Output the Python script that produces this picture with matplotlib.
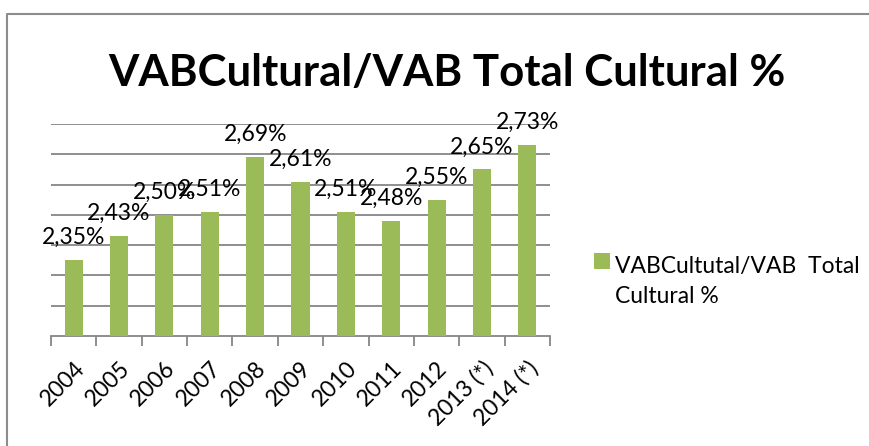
import matplotlib
matplotlib.use("Agg")
import matplotlib.pyplot as plt
from matplotlib.lines import Line2D
from matplotlib.patches import Rectangle
import numpy as np

categories = ["2004", "2005", "2006", "2007", "2008", "2009", "2010", "2011", "2012", "2013 (*)", "2014 (*)"]
values = [2.35, 2.43, 2.50, 2.51, 2.69, 2.61, 2.51, 2.48, 2.55, 2.65, 2.73]
labels = ["2,35%", "2,43%", "2,50%", "2,51%", "2,69%", "2,61%", "2,51%", "2,48%", "2,55%", "2,65%", "2,73%"]
title = "VABCultural/VAB Total Cultural %"
legend_label = "VABCultutal/VAB  Total\nCultural %"

plt.rcParams['font.family'] = ['Lato', 'DejaVu Sans']

W, H = 870, 446
fig = plt.figure(figsize=(W / 100, H / 100), dpi=100)
ax = fig.add_axes([51 / W, 1 - 336 / H, (550 - 51) / W, (336 - 124) / H])

bar_color = "#9BBB59"
grid_color = "#868686"
x = np.arange(len(categories))
bars = ax.bar(x, values, width=0.4, color=bar_color, zorder=3)

ax.set_xlim(-0.5, len(categories) - 0.5)
ax.set_ylim(2.1, 2.8)
ax.set_yticks(np.arange(2.2, 2.81, 0.1))
ax.yaxis.grid(True, color=grid_color, linewidth=1.3, zorder=0)
ax.tick_params(axis='y', length=0, labelleft=False)
for s in ['left', 'right', 'top']:
    ax.spines[s].set_visible(False)
ax.spines['bottom'].set_color(grid_color)
ax.spines['bottom'].set_linewidth(1.3)

ax.set_xticks(x)
ax.set_xticklabels(categories, rotation=45, ha='right', va='top',
                   rotation_mode='anchor', fontsize=16.5)
ax.tick_params(axis='x', which='major', length=0, pad=15.5)
ax.set_xticks(np.arange(-0.5, len(categories), 1.0), minor=True)
ax.tick_params(axis='x', which='minor', length=7, width=1.3, color=grid_color)

for xi, v, lab in zip(x, values, labels):
    ax.annotate(lab, (xi, v), xytext=(0, 11.5), textcoords='offset points',
                ha='center', va='baseline', fontsize=16.5, color='black', zorder=5,
                annotation_clip=False)

fig.text(447 / W, 1 - 86 / H, title, ha='center', va='baseline',
         fontsize=31.5, fontweight='bold', color='black')

# legend (key square + two-line label)
fig.add_artist(Rectangle((594 / W, 1 - 269 / H), 16 / W, 16 / H,
                         transform=fig.transFigure, facecolor=bar_color, edgecolor='none'))
fig.text(615 / W, 1 - 303 / H, legend_label, ha='left', va='baseline',
         fontsize=16.5, linespacing=1.5, color='black')

border_color = "#8c8c8c"
fig.add_artist(Line2D([7 / W, 7 / W, 1.0], [0.0, 1 - 14 / H, 1 - 14 / H],
                      transform=fig.transFigure, color=border_color, linewidth=1.5))

fig.savefig("out.png", dpi=100)
